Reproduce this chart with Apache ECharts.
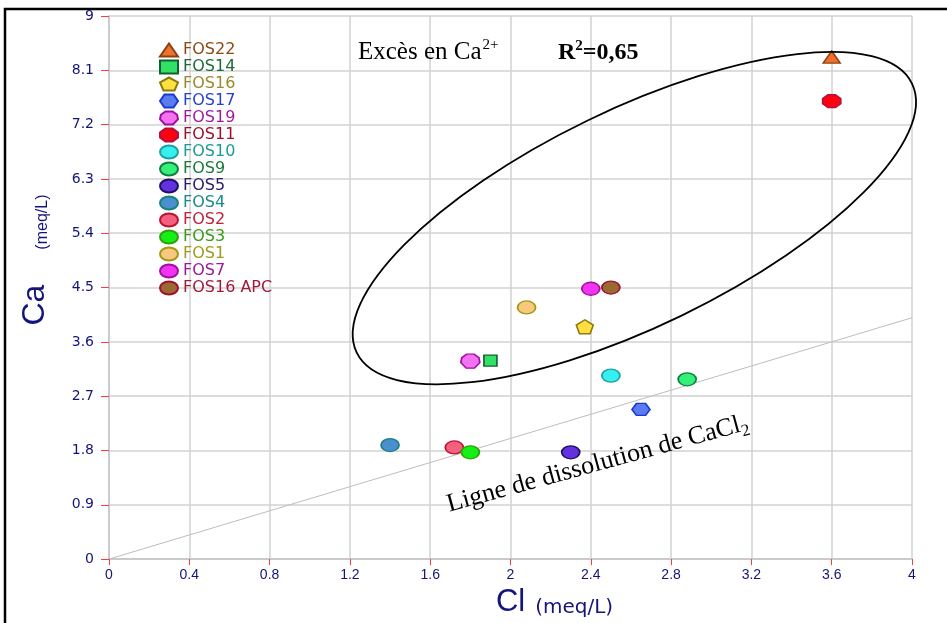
<!DOCTYPE html>
<html>
<head>
<meta charset="utf-8">
<script src="https://cdn.jsdelivr.net/npm/echarts@6/dist/echarts.min.js"></script>
<style>
  html, body { margin: 0; padding: 0; background: #ffffff; }
  #chart { width: 947px; height: 623px; }
</style>
</head>
<body>
<div id="chart"></div>
<script>
// Samples: chloride (x) against calcium (y), both in meq/L
const sampleNames = ['FOS22', 'FOS14', 'FOS16', 'FOS17', 'FOS19', 'FOS11', 'FOS10', 'FOS9',
                     'FOS5', 'FOS4', 'FOS2', 'FOS3', 'FOS1', 'FOS7', 'FOS16 APC'];
const clValues = [3.60, 1.90, 2.37, 2.65, 1.80, 3.60, 2.50, 2.88, 2.30, 1.40, 1.72, 1.80, 2.08, 2.40, 2.50];
const caValues = [8.32, 3.29, 3.85, 2.48, 3.28, 7.59, 3.04, 2.98, 1.77, 1.89, 1.85, 1.77, 4.17, 4.48, 4.50];

// Axis ticks
const xTickValues = [0, 0.4, 0.8, 1.2, 1.6, 2, 2.4, 2.8, 3.2, 3.6, 4];
const yTickValues = [0, 0.9, 1.8, 2.7, 3.6, 4.5, 5.4, 6.3, 7.2, 8.1, 9];

// CaCl2 dissolution reference line (Ca = Cl)
const dissolutionLine = [[0, 0], [4, 4]];

// Zone of calcium excess: ends of the major axis (data units) and minor/major ratio
const excessZoneEnds = [[1.234, 3.42], [4.0, 7.88]];
const excessZoneRatio = 0.351;

// Marker shapes
const OVAL = 'path://M0,50 A50,50 0 1 1 100,50 A50,50 0 1 1 0,50 Z';
const PENTAGON = 'path://M50,0 L100,38 L81,100 L19,100 L0,38 Z';
const HEXAGON = 'path://M0,50 L25,0 L75,0 L100,50 L75,100 L25,100 Z';
const HEPTAGON = 'path://M30,0 L70,0 L95,25 L100,60 L72,100 L28,100 L0,60 L5,25 Z';
const OCTAGON = 'path://M30,0 L70,0 L100,30 L100,70 L70,100 L30,100 L0,70 L0,30 Z';

const markerSymbols = ['triangle', 'rect', PENTAGON, HEXAGON, HEPTAGON, OCTAGON, OVAL, OVAL,
                       OVAL, OVAL, OVAL, OVAL, OVAL, OVAL, OVAL];
const markerSizes = [[17, 12], [13, 11], [17, 14], [18, 12], [19, 14], [18, 13], [18, 13], [18, 13],
                     [18, 13], [18, 13], [18, 13], [18, 13], [18, 13], [18, 13], [18, 13]];
const fillColors = ['#f07030', '#33e066', '#ffe040', '#5a7cf0', '#f272f2', '#ff0010', '#34f0f0', '#34f078',
                    '#6232e0', '#4a90d0', '#f2627e', '#14f014', '#f8c880', '#f234f2', '#9a6a32'];
const borderColors = ['#8a4010', '#106030', '#8a7a10', '#1a3acf', '#a010a0', '#b01040', '#20a0a0', '#108040',
                      '#201060', '#1a8080', '#c01030', '#30a010', '#a09a10', '#a010a0', '#a01030'];
const legendTextColors = ['#8a4a14', '#1c6a3a', '#9a8a2a', '#2a40cf', '#a01aa0', '#a0102e', '#1a9a9a', '#1a7a3a',
                          '#2a1a6a', '#1a8a8a', '#c0203a', '#3a9a1a', '#a09a1a', '#9a1a9a', '#a01a3a'];

const navy = '#14147a';

const chart = echarts.init(document.getElementById('chart'), null, { renderer: 'canvas' });

const scatterSeries = sampleNames.map((name, i) => ({
  name: name,
  type: 'scatter',
  data: [[clValues[i], caValues[i]]],
  symbol: markerSymbols[i],
  symbolSize: markerSizes[i],
  symbolKeepAspect: false,
  itemStyle: { color: fillColors[i], borderColor: borderColors[i], borderWidth: 1.5, opacity: 1 },
  emphasis: { disabled: true },
  z: 5
}));

const option = {
  backgroundColor: '#ffffff',
  animation: false,
  grid: { left: 109, right: 35, top: 16, bottom: 63 },
  legend: {
    orient: 'vertical',
    left: 154,
    top: 37,
    itemWidth: 18,
    itemHeight: 13,
    itemGap: 1,
    symbolKeepAspect: false,
    selectedMode: false,
    textStyle: { fontFamily: 'DejaVu Sans', fontSize: 16, lineHeight: 15 },
    data: sampleNames.map((name, i) => ({
      name: name,
      icon: markerSymbols[i],
      textStyle: { color: legendTextColors[i] }
    }))
  },
  xAxis: {
    type: 'value',
    min: xTickValues[0],
    max: xTickValues[xTickValues.length - 1],
    interval: xTickValues[1] - xTickValues[0],
    name: '{big|Cl}{gap|}{small|(meq/L)}',
    nameLocation: 'middle',
    nameGap: 24,
    nameTextStyle: {
      padding: [0, 0, 0, 88],
      rich: {
        big: { fontFamily: "'Liberation Sans Narrow', 'Liberation Sans', sans-serif", fontSize: 31, color: navy, verticalAlign: 'bottom', lineHeight: 32 },
        gap: { width: 10, lineHeight: 32 },
        small: { fontFamily: 'DejaVu Sans', fontSize: 20, color: navy, verticalAlign: 'bottom', lineHeight: 28 }
      }
    },
    axisLine: { show: true, onZero: false, lineStyle: { color: '#c4c4c4', width: 1.5 } },
    axisTick: { show: true, length: 6, lineStyle: { color: '#ff3a3a', width: 1 } },
    axisLabel: {
      margin: 9, color: navy, fontFamily: "'Liberation Sans', sans-serif", fontSize: 14,
      formatter: v => String(parseFloat(v.toFixed(2)))
    },
    splitLine: { show: true, lineStyle: { color: '#d2d2d2', width: 1.5 } }
  },
  yAxis: {
    type: 'value',
    min: yTickValues[0],
    max: yTickValues[yTickValues.length - 1],
    interval: yTickValues[1] - yTickValues[0],
    name: '{big|Ca}{gap|}{small|(meq/L)}',
    nameLocation: 'middle',
    nameRotate: 90,
    nameGap: 58,
    nameTextStyle: {
      padding: [0, 0, 0, 55],
      rich: {
        big: { fontFamily: "'Liberation Sans Narrow', 'Liberation Sans', sans-serif", fontSize: 32, color: navy, verticalAlign: 'bottom', lineHeight: 32 },
        gap: { width: 35, lineHeight: 32 },
        small: { fontFamily: "'Liberation Sans Narrow', 'Liberation Sans', sans-serif", fontSize: 16, color: navy, verticalAlign: 'bottom', lineHeight: 26 }
      }
    },
    axisLine: { show: true, onZero: false, lineStyle: { color: '#c4c4c4', width: 1.5 } },
    axisTick: { show: true, length: 8, lineStyle: { color: '#ff3a3a', width: 1 } },
    axisLabel: {
      margin: 15, color: navy, fontFamily: 'DejaVu Sans', fontSize: 14,
      formatter: v => String(parseFloat(v.toFixed(2)))
    },
    splitLine: { show: true, lineStyle: { color: '#d2d2d2', width: 1.5 } }
  },
  series: [
    {
      name: 'dissolution',
      type: 'line',
      data: dissolutionLine,
      symbol: 'none',
      silent: true,
      lineStyle: { color: '#bdbdbd', width: 1 },
      z: 2
    }
  ].concat(scatterSeries),
  graphic: [
    {
      type: 'rect',
      shape: { x: 5, y: 9, width: 1000, height: 1000 },
      style: { fill: 'none', stroke: '#000000', lineWidth: 2.5 },
      silent: true,
      z: 100
    },
    {
      type: 'text',
      x: 358, y: 51,
      style: {
        text: '{b|Excès en Ca}{s|2+}',
        verticalAlign: 'middle',
        rich: {
          b: { fontFamily: "'Liberation Serif', serif", fontSize: 25, color: '#111111', lineHeight: 28, verticalAlign: 'bottom' },
          s: { fontFamily: "'Liberation Serif', serif", fontSize: 15, color: '#111111', lineHeight: 28, verticalAlign: 'bottom', padding: [0, 0, 12, 1] }
        }
      },
      z: 50
    },
    {
      type: 'text',
      x: 558, y: 51,
      style: {
        text: '{b|R}{s|2}{b|=0,65}',
        verticalAlign: 'middle',
        rich: {
          b: { fontFamily: "'Liberation Serif', serif", fontWeight: 'bold', fontSize: 24, color: '#111111', lineHeight: 28, verticalAlign: 'bottom' },
          s: { fontFamily: "'Liberation Serif', serif", fontWeight: 'bold', fontSize: 15, color: '#111111', lineHeight: 28, verticalAlign: 'bottom', padding: [0, 0, 11, 0] }
        }
      },
      z: 50
    },
    {
      type: 'text',
      x: 597, y: 461,
      rotation: 0.268,
      style: {
        text: '{t|Ligne de dissolution de CaCl}{sub|2}',
        align: 'center',
        verticalAlign: 'middle',
        rich: {
          t: { fontFamily: "'Liberation Serif', serif", fontSize: 26, color: '#111111', lineHeight: 32, verticalAlign: 'bottom' },
          sub: { fontFamily: "'Liberation Serif', serif", fontSize: 17, color: '#111111', lineHeight: 32, verticalAlign: 'bottom', padding: [0, 0, -3, 0] }
        }
      },
      z: 50
    }
  ]
};

chart.setOption(option);

// Ellipse outlining the samples with calcium excess, placed through the axes' scales
const p1 = chart.convertToPixel({ gridIndex: 0 }, excessZoneEnds[0]);
const p2 = chart.convertToPixel({ gridIndex: 0 }, excessZoneEnds[1]);
const cx = (p1[0] + p2[0]) / 2;
const cy = (p1[1] + p2[1]) / 2;
const semiMajor = Math.hypot(p2[0] - p1[0], p2[1] - p1[1]) / 2;
const tilt = Math.atan2(p1[1] - p2[1], p2[0] - p1[0]);

chart.setOption({
  graphic: option.graphic.concat([{
    type: 'ellipse',
    x: cx, y: cy,
    rotation: tilt,
    shape: { cx: 0, cy: 0, rx: semiMajor, ry: semiMajor * excessZoneRatio },
    style: { fill: 'none', stroke: '#000000', lineWidth: 1.8 },
    silent: true,
    z: 40
  }])
}, { replaceMerge: ['graphic'] });
</script>
</body>
</html>
